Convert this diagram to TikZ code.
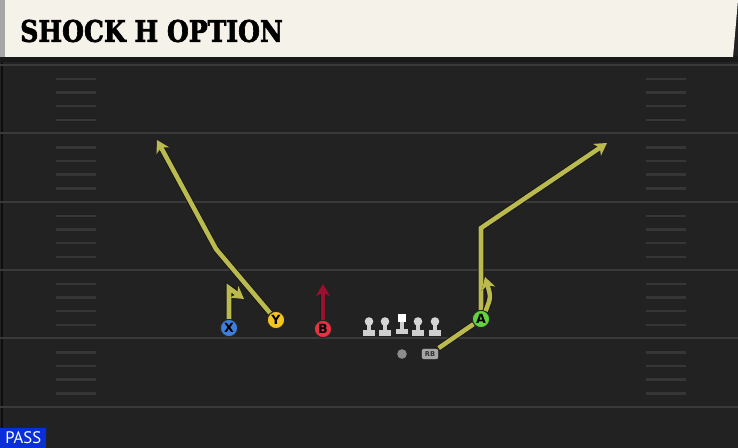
\documentclass[tikz,border=0pt]{standalone}
\usepackage{fontspec}
\setmainfont{DejaVu Sans}
\newfontfamily\titlefont[BoldFeatures={FakeBold=2.5}]{DejaVu Serif}
\newfontfamily\tagfont{PT Sans}
\usetikzlibrary{arrows.meta}
\definecolor{field}{HTML}{222222}
\definecolor{cream}{HTML}{F5F2EA}
\definecolor{yardgray}{HTML}{3A3A3A}
\definecolor{hashgray}{HTML}{363636}
\definecolor{routeyellow}{HTML}{BABA4E}
\definecolor{routered}{HTML}{9B1030}
\definecolor{xblue}{HTML}{3D7FDD}
\definecolor{yyellow}{HTML}{F4C51E}
\definecolor{bred}{HTML}{E3343F}
\definecolor{agreen}{HTML}{62D23E}
\definecolor{linegray}{HTML}{CFCFCF}
\definecolor{passblue}{HTML}{0A2FD8}

\begin{document}
\begin{tikzpicture}[x=0.75pt,y=-0.75pt,
  player/.style={circle,draw=black!85,line width=0.8pt,inner sep=0pt,minimum size=13pt,
    font=\fontsize{9.5}{9.5}\selectfont\bfseries},
  route/.style={draw=routeyellow,line width=3.4pt,-{Stealth[length=9pt,width=10.5pt,inset=2.5pt]},
    preaction={draw=black!90,line width=4.9pt}},
  redroute/.style={route,draw=routered},
  yardline/.style={draw=yardgray,line width=1.5pt},
  hashmark/.style={draw=hashgray,line width=1.6pt}]
\useasboundingbox (0,0) rectangle (738,448);
% field
\fill[field] (0,0) rectangle (738,448);
\draw[draw=black!60!field,line width=1pt] (2,62) -- (2,448);
\foreach \y in {65,133.5,202,270,338.5,407}
  \draw[yardline] (0,\y) -- (738,\y);
\foreach \y in {65,133.5,202,270,338.5}
  \foreach \d in {14,27.5,41,55} {
    \draw[hashmark] (56,\y+\d) -- (96,\y+\d);
    \draw[hashmark] (646,\y+\d) -- (686,\y+\d);
  }
% header
\fill[black!90] (0,56) rectangle (738,62);
\fill[cream] (0,0) -- (738,0) -- (733,57) -- (0,57) -- cycle;
\fill[black!35] (0,0) rectangle (5,57);
\node[anchor=west,inner sep=0pt] (title) at (20,31)
  {\resizebox{197pt}{16.5pt}{\titlefont\bfseries SHOCK H OPTION}};
% line
\foreach \x in {369,385,418,435} {
  \fill[linegray] (\x-6,330.5) rectangle (\x+6,336);
  \fill[linegray] (\x-2.3,322) rectangle (\x+2.3,331);
  \fill[linegray!85] (\x,321.5) circle (4.3);
}
\fill[linegray] (396,329) rectangle (408,334);
\fill[linegray] (399.7,320) rectangle (404.3,329.5);
\fill[white] (398,314) rectangle (406,322);
\fill[black!45] (402,354) circle (4.8); % qb
\node[draw=black!90,fill=black!35,rounded corners=2pt,minimum width=13pt,minimum height=8.5pt,
  inner sep=0pt,font=\fontsize{5}{5}\selectfont\bfseries,text=black!80] (RB) at (430,354) {RB};
% players
\node[player,fill=xblue] (X) at (229,328) {X};
\node[player,fill=yyellow] (Y) at (276,320) {Y};
\node[player,fill=bred] (B) at (323,329) {B};
\node[player,fill=agreen] (A) at (481,319) {A};
% routes
\coordinate (x1) at (229,288);
\coordinate (x2) at (244,299);
\coordinate (y1) at (216,249);
\coordinate (y2) at (157,140);
\coordinate (b1) at (323,284);
\coordinate (a1) at (481,228);
\coordinate (a2) at (607,143);
\coordinate (a3) at (485,277);
\draw[route] (X) -- (x1) -- (x2);
\draw[route] (Y) -- (y1) -- (y2);
\draw[redroute] (B) -- (b1);
\draw[route] (A) -- (a1) -- (a2);
\draw[route] (A.60) .. controls (491,297) .. (a3);
\draw[route,-] (RB) -- (A);
% play type
\node[fill=passblue,text=white,anchor=south west,minimum width=34.5pt,minimum height=15pt,
  inner sep=1pt,font=\tagfont\fontsize{12.5}{12.5}\selectfont] (pass) at (0,448) {PASS};
\end{tikzpicture}
\end{document}
